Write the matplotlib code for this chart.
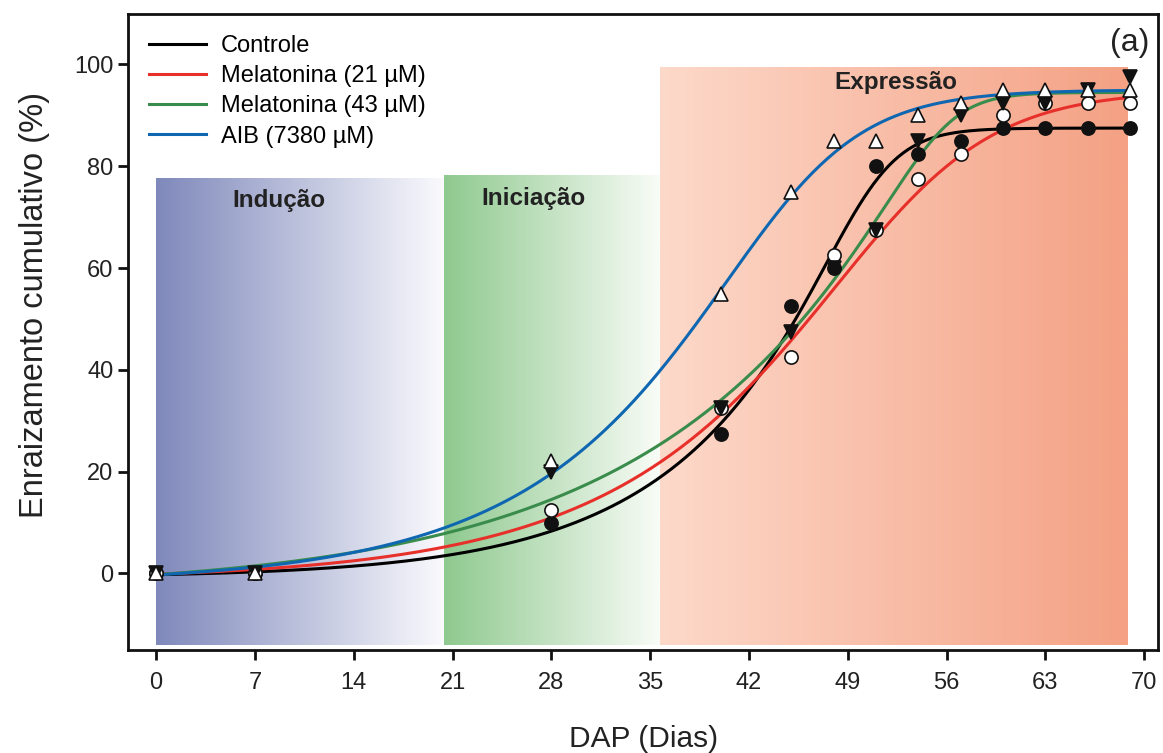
import numpy as np
import matplotlib
matplotlib.use("Agg")
import matplotlib.pyplot as plt
from matplotlib.colors import LinearSegmentedColormap

plt.rcParams['font.family'] = ['Liberation Sans', 'DejaVu Sans']

# dados
dap = [0, 7, 28, 40, 45, 48, 51, 54, 57, 60, 63, 66, 69]
controle = [0, 0, 10.0, 27.5, 52.5, 60.0, 80.0, 82.5, 85.0, 87.5, 87.5, 87.5, 87.5]
mel21 = [0, 0, 12.5, 32.5, 42.5, 62.5, 67.5, 77.5, 82.5, 90.0, 92.5, 92.5, 92.5]
mel43 = [0, 0, 20.0, 32.5, 47.5, 60.0, 67.5, 85.0, 90.0, 92.5, 92.5, 95.0, 97.5]
aib = [0, 0, 22.0, 55.0, 75.0, 85.0, 85.0, 90.0, 92.5, 95.0, 95.0, 95.0, 95.0]

nomes = ["Controle", "Melatonina (21 µM)", "Melatonina (43 µM)", "AIB (7380 µM)"]

# parametros do ajuste sigmoidal (y0, a, x0, b, c)
ajuste_y0 = [-0.8, -1.3, -3.5, -2.0]
ajuste_a = [88.3, 96.3, 98.0, 97.0]
ajuste_x0 = [50.7, 52.5, 55.7, 44.5]
ajuste_b = [2.0, 5.0, 1.8, 4.2]
ajuste_c = [0.2, 0.42, 0.11, 0.38]

# fases
fase_nomes = ["Indução", "Iniciação", "Expressão"]
fase_ini = [0, 20.4, 35.7]
fase_fim = [20.4, 35.7, 68.8]
fase_topo = [77.7, 78.2, 99.4]
fase_cores = [("#7F89BB", "#FAFAFD"), ("#8FC98F", "#F9FCF7"), ("#FDD9CA", "#F4A184")]
fase_txt_x = [8.7, 26.7, 52.4]
fase_txt_y = [73.3, 73.7, 96.5]

cores = ["black", "#E8302B", "#3A8C4C", "#0F67B1"]
marcadores = ["o", "o", "v", "^"]
faces = ["#111111", "white", "#111111", "white"]

fig = plt.figure(figsize=(11.63, 7.53), dpi=100)
ax = fig.add_axes([0.110, 0.137, 0.886, 0.845])

for i in range(3):
    cmap = LinearSegmentedColormap.from_list("f%d" % i, fase_cores[i])
    ax.imshow(np.linspace(0, 1, 256).reshape(1, -1), cmap=cmap, aspect="auto",
              extent=[fase_ini[i], fase_fim[i], -14, fase_topo[i]], zorder=0)
    ax.text(fase_txt_x[i], fase_txt_y[i], fase_nomes[i], fontsize=17.5,
            fontweight="bold", color="#222222", ha="center", va="center", zorder=5)

xs = np.linspace(0, 69, 400)
series = [controle, mel21, mel43, aib]
linhas = []
for i in range(4):
    t = (xs - ajuste_x0[i]) / ajuste_b[i]
    ys = ajuste_y0[i] + ajuste_a[i] / (1 + np.exp(-t)) ** ajuste_c[i]
    l, = ax.plot(xs, ys, color=cores[i], lw=2.2, label=nomes[i], zorder=3)
    linhas.append(l)

for i in range(4):
    ax.plot(dap, series[i], ls="none", marker=marcadores[i], ms=9.5,
            mfc=faces[i], mec="#111111", mew=1.2, zorder=4)

ax.set_xlim(-2, 71)
ax.set_ylim(-15, 110)
ax.set_xticks(range(0, 71, 7))
ax.set_yticks(range(0, 101, 20))
ax.tick_params(labelsize=17, width=2, length=7, color="#111111", labelcolor="#222222")
ax.tick_params(axis="x", pad=9)
for s in ax.spines.values():
    s.set_linewidth(2)
    s.set_color("#111111")

ax.set_xlabel("DAP (Dias)", fontsize=21.5, color="#222222")
ax.set_ylabel("Enraizamento cumulativo (%)", fontsize=23.5, color="#222222")
ax.xaxis.set_label_coords(0.5, -0.118)
ax.yaxis.set_label_coords(-0.076, 0.542)

ax.legend(handles=linhas, loc="upper left", bbox_to_anchor=(0.0, 0.999), frameon=False,
          fontsize=17, handlelength=2.4, labelspacing=0.34, handletextpad=0.64)
ax.text(69, 104.3, "(a)", fontsize=23, ha="center", va="center", color="#222222")

fig.savefig("out.png", dpi=100)
